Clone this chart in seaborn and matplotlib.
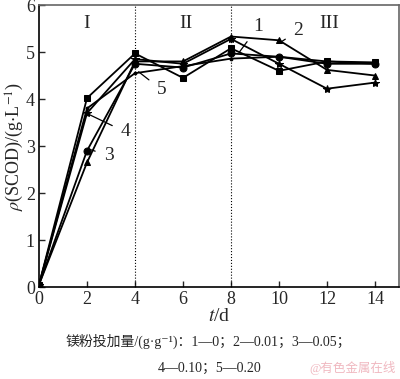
import pandas as pd
import seaborn as sns
import matplotlib.pyplot as plt

# time (d)
days = [0, 2, 4, 6, 8, 10, 12, 14]
# rho(SCOD) g/L for each Mg-powder dose
s1 = [0.05, 4.02, 4.97, 4.45, 5.08, 4.60, 4.80, 4.78]
s2 = [0.05, 2.65, 4.80, 4.80, 5.33, 5.25, 4.62, 4.50]
s3 = [0.05, 2.90, 4.75, 4.67, 4.97, 4.90, 4.75, 4.75]
s4 = [0.05, 3.70, 4.85, 4.75, 5.28, 4.75, 4.22, 4.35]
s5 = [0.05, 3.80, 4.55, 4.70, 4.86, 4.90, 4.80, 4.75]
series_names = ['1', '2', '3', '4', '5']
stage_labels = ['I', 'II', 'III']

sns.set_theme(style="ticks")
plt.rcParams['font.family'] = ['Liberation Serif', 'Noto Sans CJK SC', 'DejaVu Sans']
plt.rcParams['mathtext.fontset'] = 'stix'

df = pd.DataFrame({'t': days * 5,
                   'rho': s1 + s2 + s3 + s4 + s5,
                   'series': [n for n in series_names for _ in days]})

fig = plt.figure(figsize=(4.0, 3.79), dpi=100)
ax = fig.add_axes([0.0975, 0.2427, 0.9, 0.744])

markers = {'1': 's', '2': '^', '3': 'o', '4': '*', '5': 'o'}
sizes_m = {'1': 5, '2': 5, '3': 5, '4': 6, '5': 2}
for name in series_names:
    sub = df[df.series == name]
    sns.lineplot(data=sub, x='t', y='rho', ax=ax, color='black', lw=1.3,
                 marker=markers[name], markersize=sizes_m[name],
                 markeredgecolor='black', markerfacecolor='black', legend=False)

ax.axvline(4, color='black', ls=':', lw=0.8)
ax.axvline(8, color='black', ls=':', lw=0.8)

ax.set_xlim(0, 15)
ax.set_ylim(0, 6)
ax.set_xticks([0, 2, 4, 6, 8, 10, 12, 14])
ax.set_yticks([0, 1, 2, 3, 4, 5, 6])
ax.tick_params(direction='in', length=4, width=1, labelsize=13, pad=3,
               top=False, right=False)
for sp in ['left', 'bottom']:
    ax.spines[sp].set_color('black')
    ax.spines[sp].set_linewidth(1.2)
for sp in ['top', 'right']:
    ax.spines[sp].set_color('#666666')
    ax.spines[sp].set_linewidth(1.2)

ax.set_xlabel(r'$t$/d', fontsize=14, labelpad=0)
ax.set_ylabel(r'$\rho$(SCOD)/(g$\cdot$L$^{-1}$)', fontsize=13, labelpad=0)

for lab, xx in zip(stage_labels, [2.0, 6.1, 12.1]):
    ax.text(xx, 5.6, lab, fontsize=14, ha='center', va='center')

# series labels with leader lines
notes = [('1', (8.35, 5.0), (9.15, 5.55)),
         ('2', (10.1, 5.22), (10.8, 5.45)),
         ('3', (2.1, 2.93), (2.9, 2.8)),
         ('4', (2.05, 3.68), (3.6, 3.3)),
         ('5', (4.15, 4.58), (5.1, 4.2))]
for lab, xy, xyt in notes:
    ax.annotate(lab, xy=xy, xytext=xyt, fontsize=14, ha='center', va='center',
                arrowprops=dict(arrowstyle='-', color='black', lw=0.9,
                                shrinkA=4, shrinkB=0))

fig.text(0.52, 0.1, '镁粉投加量/(g·g⁻¹)：1—0；2—0.01；3—0.05；',
         ha='center', va='center', fontsize=10)
fig.text(0.525, 0.028, '4—0.10；5—0.20', ha='center', va='center', fontsize=10)
fig.text(0.99, 0.028, '@有色金属在线', ha='right', va='center', fontsize=9,
         color='#f0b8c0')

fig.savefig('out.png', dpi=100)
